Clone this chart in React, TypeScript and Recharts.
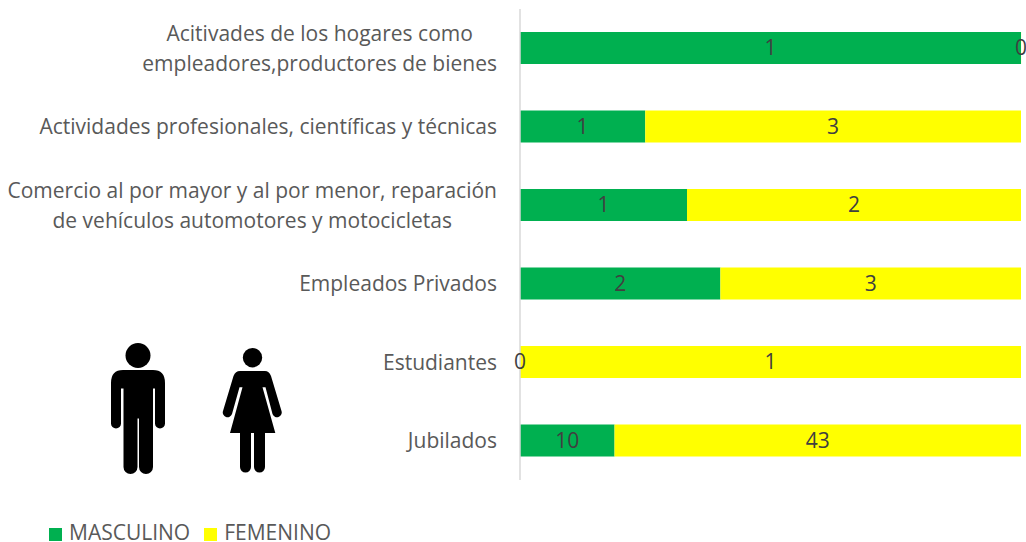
import { BarChart, Bar, XAxis, YAxis, Legend, LabelList } from "recharts";

const FONT = '"Open Sans", sans-serif';
const FONT_SIZE = 21;

// Line breaks follow the wrapped labels of the original chart
const categories = [
  "Acitivades de los hogares como\nempleadores,productores de bienes",
  "Actividades profesionales, científicas y técnicas",
  "Comercio al por mayor y al por menor, reparación\nde vehículos automotores y motocicletas",
  "Empleados Privados",
  "Estudiantes",
  "Jubilados",
];
const masculino = [1, 1, 1, 2, 0, 10];
const femenino = [0, 3, 2, 3, 1, 43];

const chartData = categories.map((name, i) => ({
  name,
  MASCULINO: masculino[i],
  FEMENINO: femenino[i],
}));

const measureText = (text: string) => {
  const ctx = document.createElement("canvas").getContext("2d");
  if (!ctx) return 0;
  ctx.font = `${FONT_SIZE}px ${FONT}`;
  return ctx.measureText(text).width;
};

// Lines are centred on each other, and the whole block is right aligned
const CategoryTick = ({ x, y, payload }: any) => {
  const lines: string[] = payload.value.split("\n");
  const blockWidth = Math.max(...lines.map(measureText));
  const top = y - ((lines.length - 1) * 30) / 2;
  return (
    <g>
      {lines.map((line, i) => (
        <text
          key={line}
          x={x - blockWidth / 2}
          y={top + i * 30}
          dy="0.35em"
          textAnchor="middle"
          fill="#595959"
          fontFamily={FONT}
          fontSize={FONT_SIZE}
        >
          {line}
        </text>
      ))}
    </g>
  );
};

const PeopleIcons = () => (
  <svg
    width={1026}
    height={542}
    style={{ position: "absolute", left: 0, top: 0, pointerEvents: "none" }}
  >
    <circle cx={138} cy={355.5} r={12.5} fill="#000" />
    <path
      fill="#000"
      d="M123 370 H153 Q165 370 165 383 V423.5 A5 5 0 0 1 155 423.5 V388.5 H153 V467 A7 7 0 0 1 139 467 V418.5 H137.5 V467 A7 7 0 0 1 123.5 467 V388.5 H121 V423.5 A5 5 0 0 1 111 423.5 V383 Q111 370 123 370 Z"
    />
    <circle cx={252.5} cy={357.7} r={9.7} fill="#000" />
    <path
      fill="#000"
      d="M240 371 H265 Q269 371 271 376 L281.5 411 A4.7 4.7 0 0 1 272.5 414 L265.5 387.3 H262.5 L275.3 433 H265 V467 A5.5 5.5 0 0 1 254 467 V433 H251 V467 A5.5 5.5 0 0 1 240 467 V433 H230 L242.5 387.3 H239.5 L232 414 A4.7 4.7 0 0 1 223 411 L233.5 376 Q235.5 371 240 371 Z"
    />
  </svg>
);

const labelStyle = { fill: "#404040", fontFamily: FONT, fontSize: FONT_SIZE };

export default function App() {
  return (
    <div style={{ position: "absolute", left: 0, top: 0, width: 1026, height: 542, background: "#fff" }}>
      <BarChart
        width={1026}
        height={542}
        data={chartData}
        layout="vertical"
        stackOffset="expand"
        margin={{ top: 9, right: 5, bottom: 41, left: 0 }}
      >
        <XAxis type="number" hide domain={[0, 1]} />
        <YAxis
          type="category"
          dataKey="name"
          width={520}
          axisLine={{ stroke: "#d9d9d9", strokeWidth: 1.5 }}
          tickLine={false}
          tickSize={0}
          tickMargin={23}
          tick={<CategoryTick />}
        />
        <Legend
          verticalAlign="bottom"
          align="left"
          iconType="square"
          iconSize={13}
          itemSorter={null}
          wrapperStyle={{ left: 49, bottom: -1, width: 320, lineHeight: "21px", fontFamily: FONT, fontSize: FONT_SIZE }}
          formatter={(value) => (
            <span style={{ color: "#595959", marginLeft: 3, marginRight: 4 }}>{value}</span>
          )}
        />
        <Bar dataKey="MASCULINO" stackId="a" fill="#00B050" barSize={32} minPointSize={0.1} isAnimationActive={false}>
          <LabelList dataKey="MASCULINO" position="center" style={labelStyle} />
        </Bar>
        <Bar dataKey="FEMENINO" stackId="a" fill="#FFFF00" barSize={32} minPointSize={0.1} isAnimationActive={false}>
          <LabelList dataKey="FEMENINO" position="center" style={labelStyle} />
        </Bar>
      </BarChart>
      <PeopleIcons />
    </div>
  );
}
